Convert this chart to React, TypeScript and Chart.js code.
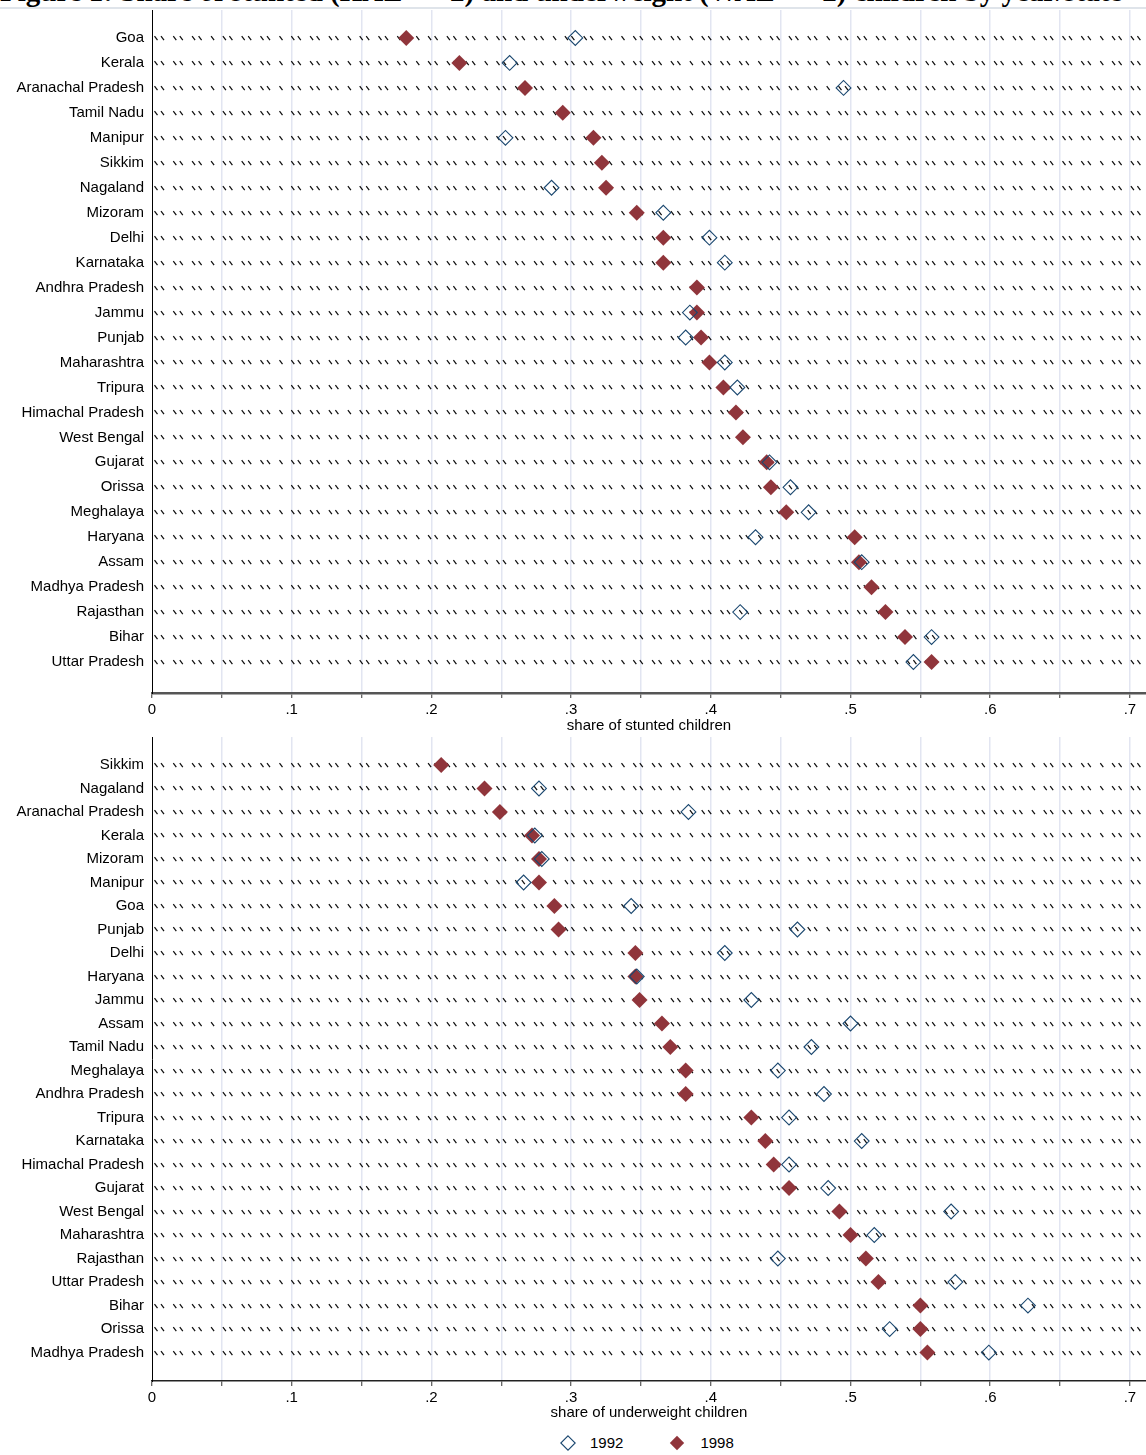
import React, { useEffect, useRef } from "react";
import { Chart, registerables } from "chart.js";

Chart.register(...registerables);

// ---- data -------------------------------------------------------------
const stuntedStates = [
  "Goa", "Kerala", "Aranachal Pradesh", "Tamil Nadu", "Manipur", "Sikkim",
  "Nagaland", "Mizoram", "Delhi", "Karnataka", "Andhra Pradesh", "Jammu",
  "Punjab", "Maharashtra", "Tripura", "Himachal Pradesh", "West Bengal",
  "Gujarat", "Orissa", "Meghalaya", "Haryana", "Assam", "Madhya Pradesh",
  "Rajasthan", "Bihar", "Uttar Pradesh",
];
const stunted1992: (number | null)[] = [
  0.303, 0.256, 0.495, null, 0.253, null,
  0.286, 0.366, 0.399, 0.410, null, 0.385,
  0.382, 0.410, 0.419, null, null,
  0.442, 0.457, 0.470, 0.432, 0.508, null,
  0.421, 0.558, 0.545,
];
const stunted1998: (number | null)[] = [
  0.182, 0.220, 0.267, 0.294, 0.316, 0.322,
  0.325, 0.347, 0.366, 0.366, 0.390, 0.390,
  0.393, 0.399, 0.409, 0.418, 0.423,
  0.440, 0.443, 0.454, 0.503, 0.506, 0.515,
  0.525, 0.539, 0.558,
];

const underweightStates = [
  "Sikkim", "Nagaland", "Aranachal Pradesh", "Kerala", "Mizoram", "Manipur",
  "Goa", "Punjab", "Delhi", "Haryana", "Jammu", "Assam", "Tamil Nadu",
  "Meghalaya", "Andhra Pradesh", "Tripura", "Karnataka", "Himachal Pradesh",
  "Gujarat", "West Bengal", "Maharashtra", "Rajasthan", "Uttar Pradesh",
  "Bihar", "Orissa", "Madhya Pradesh",
];
const underweight1992: (number | null)[] = [
  null, 0.277, 0.384, 0.274, 0.279, 0.266,
  0.343, 0.462, 0.410, 0.347, 0.429, 0.500, 0.472,
  0.448, 0.481, 0.456, 0.508, 0.456,
  0.484, 0.572, 0.517, 0.448, 0.575,
  0.627, 0.528, 0.599,
];
const underweight1998: (number | null)[] = [
  0.207, 0.238, 0.249, 0.272, 0.277, 0.277,
  0.288, 0.291, 0.346, 0.346, 0.349, 0.365, 0.371,
  0.382, 0.382, 0.429, 0.439, 0.445,
  0.456, 0.492, 0.500, 0.511, 0.520,
  0.550, 0.550, 0.555,
];

const yearLabels = ["1992", "1998"];
const TITLE =
  "Figure 1: Share of stunted (HAZ < \u22122) and underweight (WAZ < \u22122) children by year/state";

// ---- styling ----------------------------------------------------------
const NAVY = "#1a476f";
const MAROON = "#90353b";
const GRID = "#e2e5f1";
const FONT = { family: '"Liberation Sans", Arial, Helvetica, sans-serif', size: 15 };
const X_MAX = 0.7115;
// spacing of the little slanted marks along each row guide
const GUIDE_GAPS = [6.5, 12.3, 6.5, 12.3, 6.5, 12.5, 11.8];

const rowGuides = {
  id: "rowGuides",
  beforeDatasetsDraw(chart: any) {
    const { ctx, chartArea } = chart;
    const yScale = chart.scales.y;
    ctx.save();
    ctx.beginPath();
    ctx.rect(chartArea.left + 1, chartArea.top, chartArea.right - chartArea.left - 1, chartArea.bottom - chartArea.top);
    ctx.clip();
    ctx.strokeStyle = "#111";
    ctx.lineWidth = 1.25;
    ctx.beginPath();
    for (const t of yScale.ticks) {
      const py = Math.round(yScale.getPixelForValue(t.value));
      let x = chartArea.left + 2.5;
      let k = 0;
      while (x < chartArea.right) {
        ctx.moveTo(x, py - 2);
        ctx.lineTo(x + 3, py + 2);
        x += GUIDE_GAPS[k % GUIDE_GAPS.length];
        k++;
      }
    }
    ctx.stroke();
    ctx.restore();
  },
};

function toPoints(values: (number | null)[]) {
  return values
    .map((v, i) => (v == null ? null : { x: v, y: i }))
    .filter((p) => p !== null);
}

function xLabel(value: number) {
  const k = Math.round(value * 20);
  if (k % 2 !== 0) return "";
  if (k === 0) return "0";
  return "." + k / 2;
}

interface PanelSpec {
  states: string[];
  v1992: (number | null)[];
  v1998: (number | null)[];
  axisTitle: string;
  yMin: number;
  yMax: number;
  padTop: number;
  xBoxHeight: number;
  titlePadBottom: number;
  axisColor: string;
  axisWidth: number;
}

function buildConfig(p: PanelSpec): any {
  return {
    type: "scatter",
    data: {
      datasets: [
        {
          label: yearLabels[0],
          data: toPoints(p.v1992),
          showLine: false,
          pointStyle: "rectRot",
          pointRadius: 7.4,
          pointBorderWidth: 1.1,
          pointBorderColor: NAVY,
          pointBackgroundColor: "rgba(0,0,0,0)",
          borderColor: NAVY,
          backgroundColor: "rgba(0,0,0,0)",
        },
        {
          label: yearLabels[1],
          data: toPoints(p.v1998),
          showLine: false,
          pointStyle: "rectRot",
          pointRadius: 8,
          pointBorderWidth: 0,
          pointBorderColor: MAROON,
          pointBackgroundColor: MAROON,
          borderColor: MAROON,
          backgroundColor: MAROON,
        },
      ],
    },
    options: {
      animation: false,
      responsive: false,
      events: [],
      layout: { autoPadding: false, padding: { top: p.padTop, right: 0, bottom: 0, left: 0 } },
      plugins: { legend: { display: false }, tooltip: { enabled: false } },
      scales: {
        x: {
          type: "linear",
          min: 0,
          max: X_MAX,
          afterFit: (s: any) => {
            s.height = p.xBoxHeight;
            s.paddingLeft = 0;
            s.paddingRight = 0;
          },
          ticks: {
            stepSize: 0.05,
            includeBounds: false,
            autoSkip: false,
            maxRotation: 0,
            padding: 3,
            color: "#000",
            font: FONT,
            callback: (v: number) => xLabel(v),
          },
          grid: {
            color: (c: any) => (c.tick && c.tick.value === 0 ? "rgba(0,0,0,0)" : GRID),
            lineWidth: 1.5,
            drawTicks: true,
            tickLength: 5,
            tickColor: "#333",
            tickWidth: 1,
          },
          border: { display: true, color: p.axisColor, width: p.axisWidth },
          title: {
            display: true,
            text: p.axisTitle,
            color: "#000",
            font: FONT,
            padding: { top: 0, bottom: p.titlePadBottom },
          },
        },
        y: {
          type: "linear",
          reverse: true,
          min: p.yMin,
          max: p.yMax,
          afterFit: (s: any) => {
            s.width = 152;
            s.paddingTop = 0;
            s.paddingBottom = 0;
          },
          afterBuildTicks: (s: any) => {
            s.ticks = p.states.map((_, i) => ({ value: i }));
          },
          ticks: {
            autoSkip: false,
            padding: 8,
            color: "#000",
            font: FONT,
            callback: (v: number) => p.states[v] ?? "",
          },
          grid: { display: false, drawTicks: false },
          border: { display: true, color: "#000", width: 1 },
        },
      },
    },
    plugins: [rowGuides],
  };
}

function Panel({ spec, top, height }: { spec: PanelSpec; top: number; height: number }) {
  const ref = useRef<HTMLCanvasElement | null>(null);
  useEffect(() => {
    if (!ref.current) return;
    const chart = new Chart(ref.current, buildConfig(spec));
    return () => chart.destroy();
  }, [spec]);
  return (
    <canvas
      ref={ref}
      width={1146}
      height={height}
      style={{ position: "absolute", left: 0, top, width: 1146, height }}
    />
  );
}

const stuntedSpec: PanelSpec = {
  states: stuntedStates,
  v1992: stunted1992,
  v1998: stunted1998,
  axisTitle: "share of stunted children",
  yMin: -1.12,
  yMax: 26.24,
  padTop: 0,
  xBoxHeight: 42,
  titlePadBottom: 0,
  axisColor: "#555",
  axisWidth: 2.5,
};

const underweightSpec: PanelSpec = {
  states: underweightStates,
  v1992: underweight1992,
  v1998: underweight1998,
  axisTitle: "share of underweight children",
  yMin: -1.19,
  yMax: 26.21,
  padTop: 2,
  xBoxHeight: 44,
  titlePadBottom: 3,
  axisColor: "#222",
  axisWidth: 1.5,
};

function Diamond({ filled, color }: { filled: boolean; color: string }) {
  return (
    <svg width={16} height={16} viewBox="0 0 16 16" style={{ display: "block" }}>
      <polygon
        points="8,0.8 15.2,8 8,15.2 0.8,8"
        fill={filled ? color : "none"}
        stroke={color}
        strokeWidth={filled ? 0 : 1.1}
      />
    </svg>
  );
}

export default function App() {
  const labelStyle: React.CSSProperties = {
    fontFamily: FONT.family,
    fontSize: 15,
    color: "#000",
    lineHeight: "16px",
  };
  return (
    <div
      style={{
        position: "absolute",
        left: 0,
        top: 0,
        width: 1146,
        height: 1455,
        overflow: "hidden",
        background: "#fff",
      }}
    >
      <div
        style={{
          position: "absolute",
          left: 0,
          top: -23,
          fontFamily: '"Liberation Serif", "Times New Roman", serif',
          fontWeight: "bold",
          fontSize: 29,
          lineHeight: 1,
          whiteSpace: "nowrap",
          color: "#000",
        }}
      >
        {TITLE}
      </div>
      <div
        style={{
          position: "absolute",
          left: 0,
          top: 7,
          width: 1146,
          height: 2,
          background: "#dfe4ea",
        }}
      />
      <Panel spec={stuntedSpec} top={10} height={725} />
      <Panel spec={underweightSpec} top={735} height={690} />
      <div
        style={{
          position: "absolute",
          top: 1435,
          left: 560,
          display: "flex",
          alignItems: "center",
          height: 16,
        }}
      >
        <Diamond filled={false} color={NAVY} />
        <span style={{ ...labelStyle, marginLeft: 14 }}>{yearLabels[0]}</span>
        <span style={{ width: 46 }} />
        <Diamond filled={true} color={MAROON} />
        <span style={{ ...labelStyle, marginLeft: 15 }}>{yearLabels[1]}</span>
      </div>
    </div>
  );
}
